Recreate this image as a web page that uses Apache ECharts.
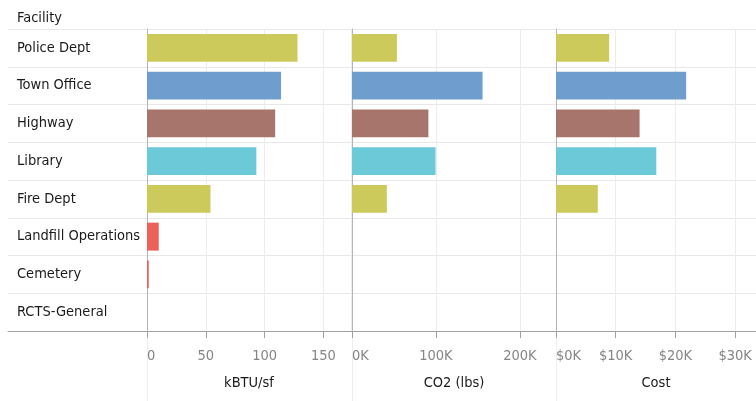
<!DOCTYPE html>
<html lang="en">
<head>
<meta charset="utf-8">
<title>Facility energy</title>
<style>
  *{padding:0;margin:0;}
  html,body{width:100%;height:100%;background:#fff;}
  #chart{width:756px;height:401px;}
</style>
</head>
<body>
<div id="chart"></div>
<script src="https://cdn.jsdelivr.net/npm/echarts@6/dist/echarts.min.js"></script>
<script>
// facilities, top to bottom
var facilities = ['Police Dept', 'Town Office', 'Highway', 'Library', 'Fire Dept',
  'Landfill Operations', 'Cemetery', 'RCTS-General'];
// values
var kbtuPerSf = [128, 114, 109, 93, 54, 10, 1.5, 0];
var co2Lbs = [53500, 155500, 91000, 99500, 41500, 0, 0, 0];
var costUsd = [8900, 21800, 14000, 16800, 7000, 0, 0, 0];

var palette = ['#cbca5b', '#6f9dce', '#a7756b', '#6bc9d8', '#cbca5b', '#ec615a', '#ec615a', '#ec615a'];
var font = "'Liberation Sans Narrow', 'DejaVu Sans Condensed', 'Liberation Sans', Arial, sans-serif";
var fsize = 14.5;

var chart = echarts.init(document.getElementById('chart'));

var gridTop = 29, gridBottom = 70;
var panelLefts = [147, 352, 556];

function panelY(i, showLabels) {
  return {
    type: 'category', gridIndex: i, inverse: true, data: facilities,
    axisLine: {show: true, lineStyle: {color: '#b5b5b5'}},
    axisTick: {show: false},
    splitLine: {show: false},
    axisLabel: showLabels ? {show: true, align: 'left', margin: 130, fontSize: fsize,
      color: '#1a1a1a', fontFamily: font} : {show: false}
  };
}
function panelX(i, max, interval, name, fmt) {
  return {
    type: 'value', gridIndex: i, min: 0, max: max, interval: interval,
    name: name, nameLocation: 'middle', nameGap: 45,
    nameTextStyle: {fontSize: fsize, color: '#1a1a1a', fontFamily: font},
    axisLine: {show: true, lineStyle: {color: '#a0a0a0'}},
    axisTick: {show: true, length: 7, lineStyle: {color: '#a0a0a0'}},
    axisLabel: {fontSize: fsize, color: '#858585', fontFamily: font, margin: 18,
      alignMinLabel: 'left', showMaxLabel: false, formatter: fmt},
    splitLine: {show: true, lineStyle: {color: '#ececec'}}
  };
}
function barSeries(i, values) {
  return {
    type: 'bar', xAxisIndex: i, yAxisIndex: i, data: values, barWidth: '74%',
    itemStyle: {color: function (p) { return palette[p.dataIndex]; }},
    silent: true
  };
}

var grids = [
  {left: 8, right: 0, top: gridTop, bottom: gridBottom},
  {left: panelLefts[0], width: 204, top: gridTop, bottom: gridBottom},
  {left: panelLefts[1], width: 204, top: gridTop, bottom: gridBottom},
  {left: panelLefts[2], right: 0, top: gridTop, bottom: gridBottom}
];
var xAxes = [
  {type: 'value', gridIndex: 0, min: 0, max: 1,
    axisLine: {show: true, lineStyle: {color: '#a0a0a0'}},
    axisTick: {show: false}, axisLabel: {show: false}, splitLine: {show: false}},
  panelX(1, 173.5, 50, 'kBTU/sf', function (v) { return String(v); }),
  panelX(2, 243000, 100000, 'CO2 (lbs)', function (v) { return (v / 1000) + 'K'; }),
  panelX(3, 33500, 10000, 'Cost', function (v) { return '$' + (v / 1000) + 'K'; })
];
var yAxes = [
  {type: 'category', gridIndex: 0, inverse: true, data: facilities,
    axisLine: {show: false}, axisTick: {show: false}, axisLabel: {show: false},
    splitLine: {show: true, lineStyle: {color: '#e8e8e8'}}},
  panelY(1, true),
  panelY(2, false),
  panelY(3, false)
];
// faint panel dividers continuing under the axis labels
panelLefts.forEach(function (l, k) {
  var gi = 4 + k;
  grids.push({left: l, width: 10, top: 401 - gridBottom, bottom: 0});
  xAxes.push({type: 'value', gridIndex: gi, show: false});
  yAxes.push({type: 'category', gridIndex: gi, data: [''],
    axisLine: {show: true, lineStyle: {color: '#eeeeee'}},
    axisTick: {show: false}, axisLabel: {show: false}, splitLine: {show: false}});
});

var option = {
  animation: false,
  title: {text: 'Facility', left: 12, top: 6,
    textStyle: {fontSize: fsize, fontWeight: 'normal', color: '#1a1a1a', fontFamily: font}},
  grid: grids,
  xAxis: xAxes,
  yAxis: yAxes,
  series: [
    barSeries(1, kbtuPerSf),
    barSeries(2, co2Lbs),
    barSeries(3, costUsd)
  ]
};
chart.setOption(option);
</script>
</body>
</html>
